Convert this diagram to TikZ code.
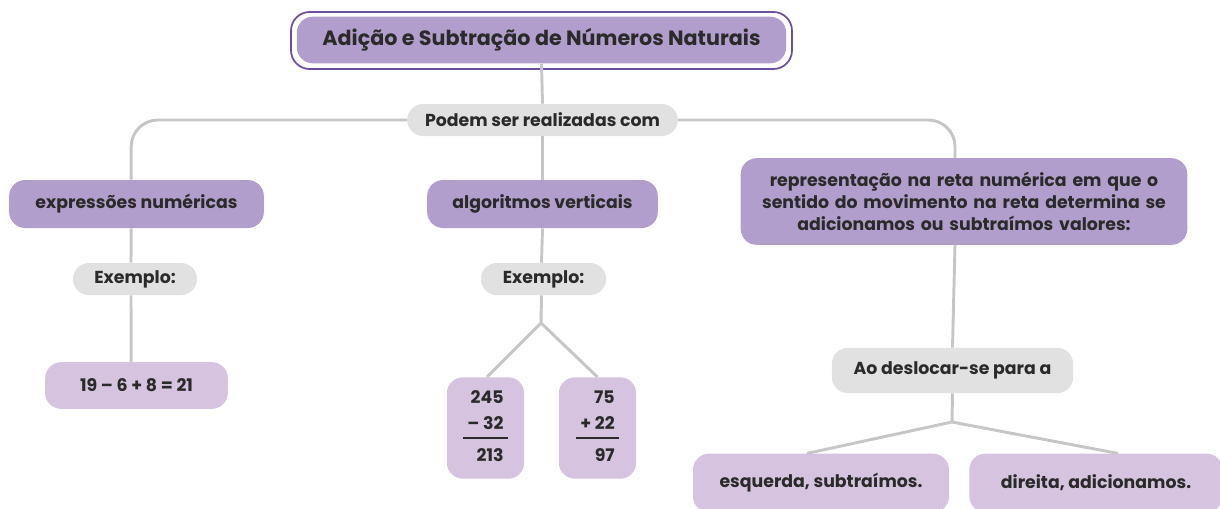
\documentclass[tikz,border=0pt]{standalone}
\usepackage{fontspec}
\setmainfont{Poppins}
\usepackage{tikz}
\usetikzlibrary{positioning, calc}

\definecolor{roxo}{HTML}{B29ECC}
\definecolor{roxoclaro}{HTML}{D6C3DF}
\definecolor{roxoborda}{HTML}{6B4E9E}
\definecolor{cinza}{HTML}{E1E1E1}
\definecolor{linha}{HTML}{C6C6C6}
\definecolor{texto}{HTML}{2A2A2A}

\tikzset{
    base/.style={rounded corners=12pt, font=\bfseries\fontsize{13}{16.5}\selectfont, text=texto, align=center, inner sep=0pt},
    topico/.style={base, fill=roxo},
    ramo/.style={base, fill=cinza},
    exemplo/.style={base, fill=roxoclaro},
    liga/.style={draw=linha, line width=2.2pt}
}

\begin{document}
\begin{tikzpicture}[x=0.75pt, y=-0.75pt]
    \useasboundingbox (0,0) rectangle (1220,508);
    % Title
    \node[topico, minimum width=367pt, minimum height=35pt, font=\bfseries\fontsize{15.5}{18}\selectfont] (titulo) at (541.5,40) {Adição e Subtração de Números Naturais};
    \draw[roxoborda, line width=1.3pt, rounded corners=14pt] (291,12) rectangle (792,69); % outline
    \node[ramo, minimum width=203pt, minimum height=24pt] (podem) at (542.5,120) {Podem ser realizadas com};

    % Left branch
    \node[topico, minimum width=191pt, minimum height=36pt] (expr) at (136.5,204) {expressões numéricas};
    \node[ramo, minimum width=93pt, minimum height=24pt] (ex1) at (135,279) {Exemplo:};
    \node[exemplo, minimum width=137pt, minimum height=35pt] (conta) at (136.5,385.5) {19 – 6 + 8 = 21};

    % Middle branch
    \node[topico, minimum width=173pt, minimum height=36pt] (algo) at (542.5,204) {algoritmos verticais};
    \node[ramo, minimum width=94pt, minimum height=24pt] (ex2) at (543.5,279) {Exemplo:};
    \coordinate (garfo1) at (541,323);
    \node[exemplo, minimum width=58pt, minimum height=76pt] (subt) at (485.5,428)
        {\begin{tabular}{@{\hspace{3pt}}r@{\hspace{3pt}}}245\\[3pt]– 32\\[1pt]\noalign{\hrule height 1.5pt}\rule{0pt}{17pt}213\end{tabular}};
    \node[exemplo, minimum width=58pt, minimum height=76pt] (soma) at (597.5,428)
        {\begin{tabular}{@{\hspace{3pt}}r@{\hspace{3pt}}}75\\[3pt]+ 22\\[1pt]\noalign{\hrule height 1.5pt}\rule{0pt}{17pt}97\end{tabular}};

    % Right branch
    \node[topico, minimum width=335pt, minimum height=65pt, text width=320pt] (reta) at (964,201.5)
        {representação na reta numérica em que o\\sentido do movimento na reta determina se\\adicionamos ou subtraímos valores:};
    \node[ramo, minimum width=181pt, minimum height=34pt] (desloca) at (952.5,370.5) {Ao deslocar-se para a};
    \coordinate (garfo2) at (952,422);
    \node[exemplo, minimum width=192pt, minimum height=44pt] (esq) at (821,483) {esquerda, subtraímos.};
    \node[exemplo, minimum width=190pt, minimum height=44pt] (dir) at (1096,483) {direita, adicionamos.};

    % Connectors
    \draw[liga] (titulo.south) -- (podem.north);
    \draw[liga, rounded corners=20pt] (podem.west) -| ([xshift=-4pt]expr.north);
    \draw[liga, rounded corners=20pt] (podem.east) -| ([xshift=-6.75pt]reta.north);
    \draw[liga] (podem.south) -- (algo.north);
    \draw[liga] ([xshift=-4pt]expr.south) -- ([xshift=-3pt]ex1.north);
    \draw[liga] ([xshift=-3pt]ex1.south) -- ([xshift=-4pt]conta.north);
    \draw[liga] (algo.south) -- ([xshift=-1.5pt]ex2.north);
    \draw[liga] ([xshift=-1.5pt]ex2.south) -- (garfo1) -- ([xshift=1.1pt]subt.north);
    \draw[liga] (garfo1) -- (soma.north);
    \draw[liga] ([xshift=-6.75pt]reta.south) -- (desloca.north);
    \draw[liga] (desloca.south) -- (garfo2) -- ([xshift=-10.5pt]esq.north);
    \draw[liga] (garfo2) -- ([xshift=16.5pt]dir.north);
\end{tikzpicture}
\end{document}
